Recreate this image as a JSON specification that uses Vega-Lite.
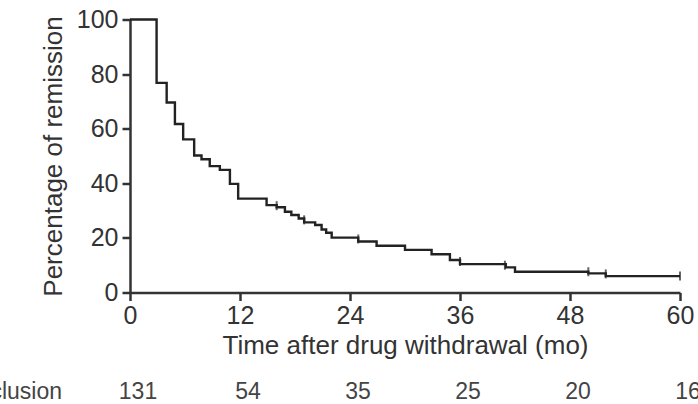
{
  "$schema": "https://vega.github.io/schema/vega-lite/v6.json",
  "width": 550,
  "height": 273,
  "autosize": {"type": "none"},
  "padding": {"left": 130, "top": 19.5, "right": 18, "bottom": 111.5},
  "background": "white",
  "config": {
    "view": {"stroke": null},
    "font": "Liberation Sans",
    "axis": {
      "grid": false,
      "domainColor": "#333",
      "domainWidth": 2.5,
      "tickColor": "#333",
      "tickWidth": 2.5,
      "tickSize": 8,
      "labelFont": "Liberation Sans",
      "labelFontSize": 25,
      "labelColor": "#333",
      "titleFont": "Liberation Sans",
      "titleFontWeight": "normal",
      "titleColor": "#333"
    }
  },
  "datasets": {
    "curve": [
      {"t": 0, "v": 100},
      {"t": 2.9, "v": 76.8},
      {"t": 4.0, "v": 69.6},
      {"t": 4.9, "v": 61.7},
      {"t": 5.8, "v": 56.1},
      {"t": 7.0, "v": 50.2},
      {"t": 7.8, "v": 48.8},
      {"t": 8.7, "v": 46.3},
      {"t": 9.8, "v": 44.9},
      {"t": 10.9, "v": 39.8},
      {"t": 11.8, "v": 34.4},
      {"t": 14.9, "v": 32.0},
      {"t": 16.0, "v": 31.2},
      {"t": 16.9, "v": 29.6},
      {"t": 17.6, "v": 28.4},
      {"t": 18.4, "v": 27.1},
      {"t": 19.0, "v": 25.7},
      {"t": 20.2, "v": 24.7},
      {"t": 20.9, "v": 23.1},
      {"t": 21.4, "v": 21.9},
      {"t": 22.0, "v": 20.1},
      {"t": 24.9, "v": 18.7},
      {"t": 26.9, "v": 17.1},
      {"t": 30.0, "v": 15.6},
      {"t": 32.9, "v": 14.0},
      {"t": 34.9, "v": 11.9},
      {"t": 36.0, "v": 10.4},
      {"t": 41.0, "v": 9.2},
      {"t": 42.0, "v": 7.6},
      {"t": 50.0, "v": 7.0},
      {"t": 51.9, "v": 6.0},
      {"t": 60.0, "v": 6.0}
    ],
    "censored": [
      {"t": 16.0, "v": 31.8},
      {"t": 19.0, "v": 26.6},
      {"t": 24.9, "v": 19.6},
      {"t": 36.0, "v": 11.4},
      {"t": 40.9, "v": 10.0},
      {"t": 50.0, "v": 7.6},
      {"t": 51.9, "v": 6.8},
      {"t": 60.0, "v": 6.0}
    ],
    "atrisk": [
      {"t": 0, "n": 131},
      {"t": 12, "n": 54},
      {"t": 24, "n": 35},
      {"t": 36, "n": 25},
      {"t": 48, "n": 20},
      {"t": 60, "n": 16}
    ],
    "rowlabel": [
      {"label": "Inclusion"}
    ]
  },
  "layer": [
    {
      "data": {"name": "curve"},
      "mark": {"type": "line", "interpolate": "step-after", "color": "#222", "strokeWidth": 2.4},
      "encoding": {
        "x": {
          "field": "t", "type": "quantitative",
          "scale": {"domain": [0, 60], "nice": false},
          "axis": {"values": [0, 12, 24, 36, 48, 60], "title": "Time after drug withdrawal (mo)", "titleFontSize": 26, "titlePadding": 4, "labelPadding": 3, "labelFlush": false}
        },
        "y": {
          "field": "v", "type": "quantitative",
          "scale": {"domain": [0, 100], "nice": false},
          "axis": {"values": [0, 20, 40, 60, 80, 100], "title": "Percentage of remission", "titleFontSize": 26, "titlePadding": 10, "labelPadding": 4}
        }
      }
    },
    {
      "data": {"name": "censored"},
      "mark": {"type": "tick", "orient": "vertical", "color": "#222", "size": 9, "thickness": 2},
      "encoding": {
        "x": {"field": "t", "type": "quantitative"},
        "y": {"field": "v", "type": "quantitative"}
      }
    },
    {
      "data": {"name": "atrisk"},
      "mark": {"type": "text", "align": "center", "baseline": "alphabetic", "dx": 8, "dy": 106, "fontSize": 23, "color": "#444"},
      "encoding": {
        "x": {"field": "t", "type": "quantitative"},
        "y": {"datum": 0},
        "text": {"field": "n", "type": "nominal"}
      }
    },
    {
      "data": {"name": "rowlabel"},
      "mark": {"type": "text", "align": "right", "baseline": "alphabetic", "dx": -68, "dy": 106, "fontSize": 23, "color": "#444"},
      "encoding": {
        "x": {"datum": 0},
        "y": {"datum": 0},
        "text": {"field": "label", "type": "nominal"}
      }
    }
  ]
}
